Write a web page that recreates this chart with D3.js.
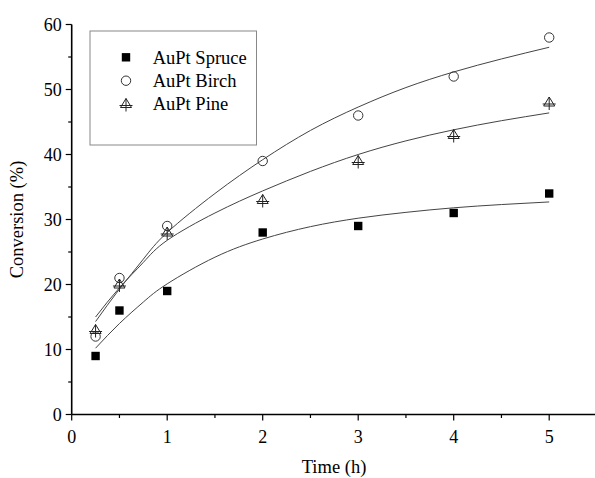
<!DOCTYPE html>
<html>
<head>
<meta charset="utf-8">
<script src="https://cdn.jsdelivr.net/npm/d3@7"></script>
<style>
  html, body { margin: 0; padding: 0; background: #fff; }
  svg { display: block; }
  text { font-family: "Liberation Serif", "Times New Roman", serif; fill: #000; }
</style>
</head>
<body>
<svg id="chart" width="595" height="478"></svg>
<script>
// Measured points
const times = [0.25, 0.5, 1, 2, 3, 4, 5];
const spruce = [9, 16, 19, 28, 29, 31, 34];
const birch  = [12, 21, 29, 39, 46, 52, 58];
const pine   = [13, 20, 28, 33, 39, 43, 48];

// Fitted curves
const fitTimes  = [0.25, 0.5, 0.75, 1, 1.5, 2, 2.5, 3, 3.5, 4, 4.5, 5];
const spruceFit = [10.2, 14.0, 17.3, 20.1, 24.2, 27.0, 28.9, 30.2, 31.1, 31.8, 32.3, 32.7];
const birchFit  = [14.3, 19.3, 23.9, 28.0, 34.0, 39.2, 43.7, 47.3, 50.3, 52.7, 54.7, 56.5];
const pineFit   = [15.0, 19.5, 23.4, 26.8, 31.0, 34.4, 37.4, 40.0, 42.1, 43.8, 45.2, 46.4];

const seriesNames = ["AuPt Spruce", "AuPt Birch", "AuPt Pine"];
const xTicks = [0, 1, 2, 3, 4, 5];
const yTicks = [0, 10, 20, 30, 40, 50, 60];

const svg = d3.select("#chart");
const x = d3.scaleLinear().domain([0, 5]).range([71.7, 549.2]);
const y = d3.scaleLinear().domain([0, 60]).range([414.5, 24.5]);

// Fitted lines
const line = d3.line().x(d => x(d[0])).y(d => y(d[1])).curve(d3.curveNatural);
[spruceFit, birchFit, pineFit].forEach(fit => {
  svg.append("path")
    .datum(fitTimes.map((t, i) => [t, fit[i]]))
    .attr("d", line)
    .attr("fill", "none")
    .attr("stroke", "#444")
    .attr("stroke-width", 1);
});

// Marker drawers
function drawSquare(g, cx, cy) {
  g.append("rect").attr("x", cx - 4.2).attr("y", cy - 4.2)
    .attr("width", 8.4).attr("height", 8.4).attr("fill", "#000");
}
function drawCircle(g, cx, cy) {
  g.append("circle").attr("cx", cx).attr("cy", cy).attr("r", 4.7)
    .attr("fill", "none").attr("stroke", "#333").attr("stroke-width", 1);
}
function drawTri(g, cx, cy) {
  const h = 9, w = 11;
  g.append("path")
    .attr("d", `M${cx},${cy - h / 2 - 1} L${cx + w / 2},${cy + h / 2 - 1} L${cx - w / 2},${cy + h / 2 - 1} Z`)
    .attr("fill", "none").attr("stroke", "#222").attr("stroke-width", 1);
  g.append("line").attr("x1", cx).attr("x2", cx)
    .attr("y1", cy - h / 2 - 1).attr("y2", cy + h / 2 + 3)
    .attr("stroke", "#222").attr("stroke-width", 1);
  g.append("line").attr("x1", cx - w / 2 - 1).attr("x2", cx + w / 2 + 1)
    .attr("y1", cy + 1.5).attr("y2", cy + 1.5)
    .attr("stroke", "#222").attr("stroke-width", 1);
}
const drawers = [drawSquare, drawCircle, drawTri];

const marks = svg.append("g");
[spruce, birch, pine].forEach((vals, si) => {
  vals.forEach((v, i) => drawers[si](marks, x(times[i]), y(v)));
});

// Axes
const axX = svg.append("g").attr("transform", `translate(0,${y(0)})`);
axX.append("line").attr("x1", x(0)).attr("x2", 595).attr("stroke", "#000").attr("stroke-width", 1.6);
const xMinor = d3.range(0.5, 5.5, 1);
xTicks.forEach(t => {
  axX.append("line").attr("x1", x(t)).attr("x2", x(t)).attr("y1", 0).attr("y2", 6)
    .attr("stroke", "#000").attr("stroke-width", 1.2);
  axX.append("text").attr("x", x(t)).attr("y", 28).attr("text-anchor", "middle")
    .attr("font-size", 18).text(t);
});
xMinor.forEach(t => {
  axX.append("line").attr("x1", x(t)).attr("x2", x(t)).attr("y1", 0).attr("y2", 3.5)
    .attr("stroke", "#000").attr("stroke-width", 1.2);
});

const axY = svg.append("g").attr("transform", `translate(${x(0)},0)`);
axY.append("line").attr("y1", y(0)).attr("y2", y(60)).attr("stroke", "#000").attr("stroke-width", 1.6);
yTicks.forEach(t => {
  axY.append("line").attr("x1", 0).attr("x2", -6).attr("y1", y(t)).attr("y2", y(t))
    .attr("stroke", "#000").attr("stroke-width", 1.2);
  axY.append("text").attr("x", -10).attr("y", y(t)).attr("dy", "0.35em")
    .attr("text-anchor", "end").attr("font-size", 18).text(t);
});
d3.range(5, 60, 10).forEach(t => {
  axY.append("line").attr("x1", 0).attr("x2", -3.5).attr("y1", y(t)).attr("y2", y(t))
    .attr("stroke", "#000").attr("stroke-width", 1.2);
});

// Axis titles
svg.append("text").attr("x", 334).attr("y", 473).attr("text-anchor", "middle")
  .attr("font-size", 18.5).text("Time (h)");
svg.append("text").attr("transform", "translate(23,219.5) rotate(-90)")
  .attr("text-anchor", "middle").attr("font-size", 18.5).text("Conversion (%)");

// Legend
svg.append("rect").attr("x", 90).attr("y", 31).attr("width", 166.5).attr("height", 114)
  .attr("fill", "#fff").attr("stroke", "#888").attr("stroke-width", 1);
const legY = [57.3, 80.7, 104];
seriesNames.forEach((name, i) => {
  drawers[i](svg, 126, legY[i]);
  svg.append("text").attr("x", 152.7).attr("y", legY[i]).attr("dy", "0.35em")
    .attr("font-size", 18.5).text(name);
});
</script>
</body>
</html>
